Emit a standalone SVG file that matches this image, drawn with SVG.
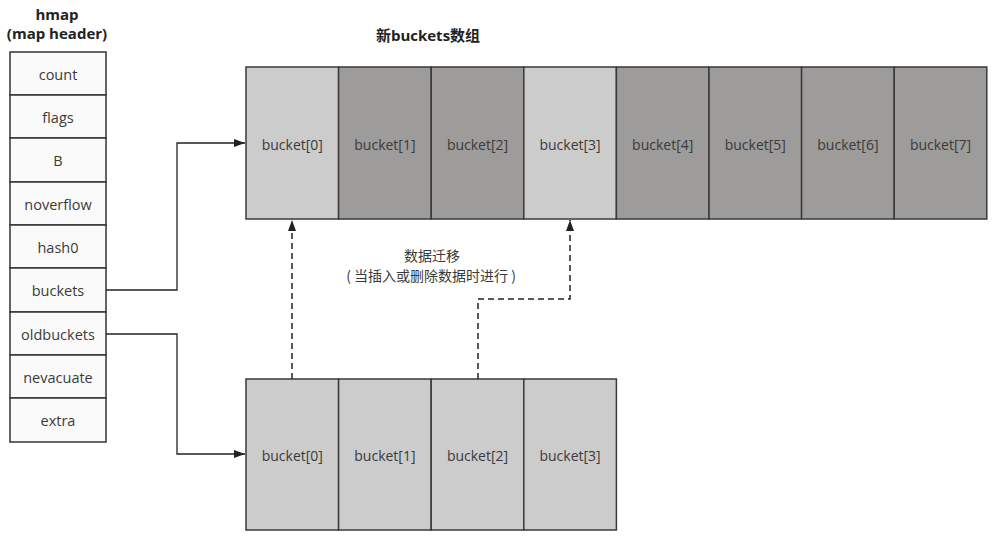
<svg xmlns="http://www.w3.org/2000/svg" width="993" height="537" viewBox="0 0 993 537">
<style>
text{font-family:"Open Sans","Noto Sans CJK SC","DejaVu Sans",sans-serif;fill:#3a3a3a;text-anchor:middle;dominant-baseline:central}
.f{fill:#fafafa;stroke:#333;stroke-width:1.5}
.fl{font-size:14.5px}
.t{font-size:15px;font-weight:bold;fill:#222}
.lt{fill:#cccccc;stroke:#3a3a3a;stroke-width:1.5}
.dk{fill:#9e9b9b;stroke:#3a3a3a;stroke-width:1.5}
.bl{font-size:14px}
.cn{font-size:14px;font-family:"Noto Sans CJK SC","Open Sans",sans-serif}
.c{fill:none;stroke:#222;stroke-width:1.3}
.d{fill:none;stroke:#222;stroke-width:1.5;stroke-dasharray:6 4}
</style>
<defs>
<marker id="ah" markerWidth="12" markerHeight="10" refX="11" refY="5" orient="auto" markerUnits="userSpaceOnUse">
<path d="M0,1 L11,5 L0,9 Z" fill="#222"/>
</marker>
</defs>
<g id="hmap-title">
<text class="t" x="57" y="14">hmap</text>
<text class="t" x="57" y="33">(map header)</text>
</g>
<g id="hmap">
<rect class="f" x="10" y="52" width="96" height="43"/><text class="fl" x="58" y="74">count</text>
<rect class="f" x="10" y="95" width="96" height="43"/><text class="fl" x="58" y="117">flags</text>
<rect class="f" x="10" y="138" width="96" height="44"/><text class="fl" x="58" y="160">B</text>
<rect class="f" x="10" y="182" width="96" height="43"/><text class="fl" x="58" y="204">noverflow</text>
<rect class="f" x="10" y="225" width="96" height="43"/><text class="fl" x="58" y="247">hash0</text>
<rect class="f" x="10" y="268" width="96" height="44"/><text class="fl" x="58" y="290">buckets</text>
<rect class="f" x="10" y="312" width="96" height="43"/><text class="fl" x="58" y="334">oldbuckets</text>
<rect class="f" x="10" y="355" width="96" height="43"/><text class="fl" x="58" y="377">nevacuate</text>
<rect class="f" x="10" y="398" width="96" height="44"/><text class="fl" x="58" y="420">extra</text>
</g>
<g id="new-title">
<text class="t" x="428" y="35">新buckets数组</text>
</g>
<g id="new-buckets">
<rect class="lt" x="246" y="67" width="92.6" height="152"/><text class="bl" x="292.3" y="144">bucket[0]</text>
<rect class="dk" x="338.6" y="67" width="92.6" height="152"/><text class="bl" x="384.9" y="144">bucket[1]</text>
<rect class="dk" x="431.2" y="67" width="92.6" height="152"/><text class="bl" x="477.5" y="144">bucket[2]</text>
<rect class="lt" x="523.8" y="67" width="92.6" height="152"/><text class="bl" x="570.1" y="144">bucket[3]</text>
<rect class="dk" x="616.4" y="67" width="92.6" height="152"/><text class="bl" x="662.7" y="144">bucket[4]</text>
<rect class="dk" x="709" y="67" width="92.6" height="152"/><text class="bl" x="755.3" y="144">bucket[5]</text>
<rect class="dk" x="801.6" y="67" width="92.6" height="152"/><text class="bl" x="847.9" y="144">bucket[6]</text>
<rect class="dk" x="894.2" y="67" width="92.6" height="152"/><text class="bl" x="940.5" y="144">bucket[7]</text>
</g>
<g id="old-buckets">
<rect class="lt" x="246" y="379" width="92.6" height="151"/><text class="bl" x="292.3" y="455">bucket[0]</text>
<rect class="lt" x="338.6" y="379" width="92.6" height="151"/><text class="bl" x="384.9" y="455">bucket[1]</text>
<rect class="lt" x="431.2" y="379" width="92.6" height="151"/><text class="bl" x="477.5" y="455">bucket[2]</text>
<rect class="lt" x="523.8" y="379" width="92.6" height="151"/><text class="bl" x="570.1" y="455">bucket[3]</text>
</g>
<g id="migration-label">
<text class="cn" x="432" y="255">数据迁移</text>
<text class="cn" x="431" y="275">(  当插入或删除数据时进行  )</text>
</g>
<g id="connectors">
<path class="c" d="M106,290 H177 V143 H245" marker-end="url(#ah)"/>
<path class="c" d="M106,334 H177 V454 H245" marker-end="url(#ah)"/>
<path class="d" d="M292,379 V220" marker-end="url(#ah)"/>
<path class="d" d="M478,379 V299 H570 V220" marker-end="url(#ah)"/>
</g>
</svg>
